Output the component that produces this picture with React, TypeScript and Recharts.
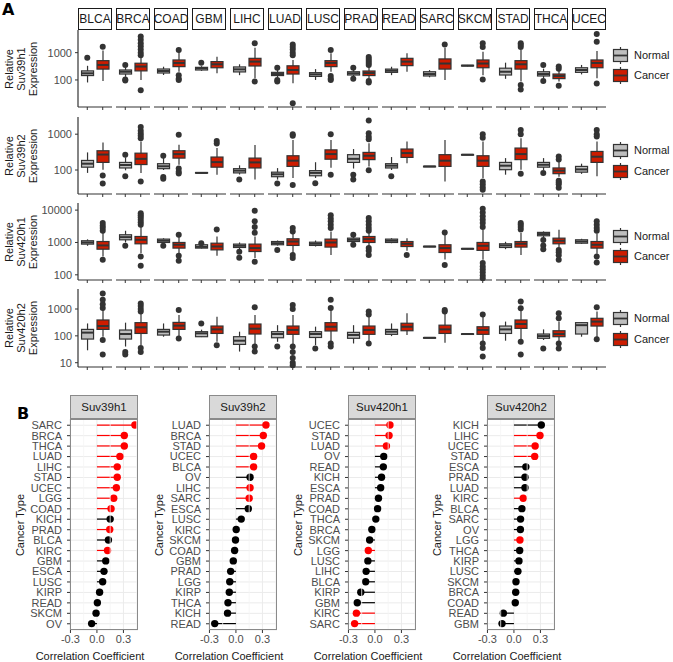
import { Fragment } from "react";
import {
  Bar,
  CartesianGrid,
  ComposedChart,
  ReferenceLine,
  Scatter,
  XAxis,
  YAxis,
} from "recharts";

const FONT = "'Liberation Sans', Arial, Helvetica, sans-serif";
const INK = "#333333";
const TICK_GREY = "#4d4d4d";
const NORMAL_FILL = "#bebebe";
const CANCER_FILL = "#cd1c00";
const SIG_RED = "#ff0000";

const CANCER_TYPES = ["BLCA", "BRCA", "COAD", "GBM", "LIHC", "LUAD", "LUSC", "PRAD", "READ", "SARC", "SKCM", "STAD", "THCA", "UCEC"];
const GROUPS = ["Normal", "Cancer"];
const GENES = ["Suv39h1", "Suv39h2", "Suv420h1", "Suv420h2"];

// box stats per cancer type: [lower whisker, Q1, median, Q3, upper whisker]
const SUV39H1_NORMAL = [
  [81, 145, 175, 215, 330], [130, 165, 200, 232, 290], [152, 180, 213, 252, 306], [215, 232, 268, 290, 320],
  [150, 197, 245, 300, 375], [120, 145, 165, 190, 230], [100, 135, 160, 185, 250], [130, 152, 175, 200, 260],
  [150, 190, 218, 250, 305], [125, 140, 165, 200, 230], [315, 325, 335, 345, 355], [110, 152, 200, 270, 430],
  [115, 140, 165, 200, 260], [160, 190, 232, 280, 355],
];
const SUV39H1_CANCER = [
  [92, 250, 355, 510, 1200], [100, 215, 310, 410, 700], [200, 308, 420, 540, 1090], [175, 280, 375, 470, 710],
  [115, 325, 470, 620, 1500], [76, 165, 232, 330, 540], [200, 308, 420, 510, 950], [115, 145, 180, 213, 305],
  [200, 335, 470, 620, 950], [100, 250, 400, 590, 1500], [150, 280, 400, 540, 1090], [87, 250, 375, 510, 1250],
  [87, 112, 140, 165, 250], [115, 280, 420, 540, 1150],
];
const SUV39H1_OUT_NORMAL = [[650], [350, 95, 105], [], [430], [], [280, 100, 87], [], [280, 110], [], [], [], [], [355, 92], []];
const SUV39H1_OUT_CANCER = [
  [1650], [800, 1000, 1300, 1700, 2200, 3000, 3900, 42], [1250, 150, 110, 100], [], [2200, 87],
  [800, 1000, 1300, 1600, 2000, 14], [1250, 140, 110, 100], [350, 420, 500, 580, 700, 92, 80], [], [2000],
  [1600, 2200, 105], [1600, 1900, 2200, 65, 45], [260, 310, 62], [2500, 4800, 75],
];

const SUV39H2_NORMAL = [
  [83, 120, 150, 185, 310], [98, 114, 138, 163, 225], [100, 109, 127, 150, 240], [81, 82, 83, 85, 86],
  [75, 83, 96, 109, 135], [54, 65, 76, 87, 113], [60, 69, 83, 96, 165], [110, 163, 205, 268, 385],
  [100, 114, 132, 150, 230], [124, 125, 126, 127, 128], [264, 266, 268, 270, 272], [74, 102, 132, 163, 215],
  [100, 120, 140, 163, 215], [78, 87, 104, 126, 150],
];
const SUV39H2_CANCER = [
  [102, 163, 270, 345, 590], [83, 142, 205, 295, 630], [140, 215, 278, 345, 505], [74, 120, 166, 230, 410],
  [54, 114, 163, 215, 500], [60, 126, 182, 250, 690], [115, 200, 278, 365, 690], [126, 195, 250, 310, 560],
  [155, 225, 297, 385, 630], [48, 126, 182, 268, 690], [60, 126, 182, 250, 630], [102, 195, 278, 410, 775],
  [65, 79, 96, 114, 175], [67, 163, 235, 330, 630],
];
const SUV39H2_OUT_NORMAL = [[], [265, 67], [250, 64, 57], [], [54], [42], [43], [74, 54], [67], [], [], [], [83], []];
const SUV39H2_OUT_CANCER = [
  [70, 42], [770, 900, 1050, 1250, 1600, 48], [960, 110, 90, 80], [550, 650], [], [900, 1000, 38], [1000, 74],
  [720, 850, 1070, 2400, 98], [], [], [800, 1000, 48, 40, 33, 28], [1000, 1300, 78], [195, 240, 50, 45, 40, 32],
  [860, 1000, 1300],
];

const SUV420H1_NORMAL = [
  [790, 890, 1000, 1130, 1250], [1000, 1210, 1460, 1730, 2300], [950, 1000, 1130, 1270, 1350], [650, 670, 730, 850, 900],
  [620, 700, 790, 890, 1000], [800, 850, 950, 1070, 1150], [750, 810, 910, 1020, 1150], [1000, 1070, 1210, 1360, 1500],
  [950, 1000, 1130, 1270, 1350], [720, 740, 750, 760, 780], [610, 630, 640, 650, 670], [620, 700, 810, 910, 1050],
  [1400, 1610, 1820, 2050, 2200], [900, 950, 1070, 1210, 1300],
];
const SUV420H1_CANCER = [
  [370, 620, 810, 1070, 1950], [470, 910, 1210, 1530, 3150], [470, 670, 850, 1000, 1540], [390, 590, 750, 950, 1540],
  [330, 525, 670, 890, 1540], [470, 810, 1070, 1300, 1950], [410, 720, 1000, 1270, 2200], [750, 1000, 1270, 1530, 2000],
  [550, 750, 910, 1070, 1360], [300, 490, 670, 850, 1730], [290, 570, 790, 1000, 2450], [410, 720, 910, 1070, 1950],
  [700, 910, 1130, 1360, 2480], [450, 670, 850, 1070, 1900],
];
const SUV420H1_OUT_NORMAL = [[], [790], [790], [950], [520, 340], [590], [], [1730, 850], [], [], [], [], [1200, 800, 620], []];
const SUV420H1_OUT_CANCER = [
  [2300, 2800, 3300, 4000, 290], [3500, 4200, 5000, 6000, 7000, 8000, 370, 190], [1730, 390, 270], [2500],
  [2000, 3000, 4500, 9500, 255], [2200, 2800, 410, 330], [2800, 3500, 4500, 5500, 7000],
  [2300, 2800, 3500, 4500, 5700, 670, 550, 410], [410], [2050, 200],
  [3000, 4000, 5000, 6500, 8500, 11000, 230, 180, 150, 120, 95, 78], [2500, 3000, 3500, 4000],
  [590, 500, 400, 290], [2300, 2800, 3500, 4500, 370, 240],
];

const SUV420H2_NORMAL = [
  [29, 76, 132, 174, 290], [40, 76, 117, 165, 310], [93, 107, 143, 174, 290], [90, 93, 124, 143, 170],
  [26, 48, 66, 93, 143], [60, 85, 117, 143, 250], [45, 87, 117, 143, 220], [52, 81, 108, 135, 250],
  [98, 114, 143, 174, 290], [83, 84, 85, 86, 87], [114, 115, 117, 119, 120], [66, 123, 174, 232, 340],
  [70, 81, 98, 117, 174], [93, 117, 250, 310, 320],
];
const SUV420H2_CANCER = [
  [93, 174, 232, 390, 950], [45, 123, 208, 310, 690], [90, 174, 240, 317, 600], [60, 123, 174, 232, 520],
  [50, 117, 185, 276, 600], [50, 114, 166, 232, 600], [60, 152, 218, 310, 920], [65, 114, 166, 232, 520],
  [107, 155, 218, 295, 690], [55, 123, 174, 250, 700], [60, 114, 166, 218, 520], [70, 190, 276, 390, 920],
  [60, 93, 117, 155, 340], [80, 232, 340, 450, 800],
];
const SUV420H2_OUT_NORMAL = [[], [25, 20], [], [290], [], [40], [34], [], [], [], [], [], [34], []];
const SUV420H2_OUT_CANCER = [
  [1100, 1500, 2200, 3800, 70, 20], [800, 1000, 1300, 1600, 35, 25], [920, 80], [45], [1150, 40, 26],
  [1000, 1400, 40, 25, 15, 10, 8], [1100, 2200, 52, 40], [620, 800, 52], [], [800, 920], [630, 52, 35, 17],
  [1060, 1900, 60, 20], [450, 690, 52, 34], [1150, 74],
];

const EXPR_TICKS = [
  [100, 1000],
  [100, 1000],
  [100, 1000, 10000],
  [10, 100, 1000],
];

// correlation panels, listed top to bottom
const SUV39H1_TYPES = ["SARC", "BRCA", "THCA", "LUAD", "LIHC", "STAD", "UCEC", "LGG", "COAD", "KICH", "PRAD", "BLCA", "KIRC", "GBM", "ESCA", "LUSC", "KIRP", "READ", "SKCM", "OV"];
const SUV39H1_R = [0.43, 0.31, 0.31, 0.26, 0.23, 0.23, 0.22, 0.19, 0.16, 0.15, 0.145, 0.13, 0.12, 0.1, 0.08, 0.065, 0.03, 0.005, -0.01, -0.06];
const SUV39H1_SIG = [1, 1, 1, 1, 1, 1, 1, 1, 1, 0, 1, 0, 1, 0, 0, 0, 0, 0, 0, 0];

const SUV39H2_TYPES = ["LUAD", "BRCA", "STAD", "UCEC", "BLCA", "OV", "LIHC", "SARC", "ESCA", "LUSC", "KIRC", "SKCM", "COAD", "GBM", "PRAD", "LGG", "KIRP", "THCA", "KICH", "READ"];
const SUV39H2_R = [0.34, 0.31, 0.29, 0.2, 0.2, 0.16, 0.16, 0.15, 0.14, 0.06, 0.003, -0.005, -0.015, -0.03, -0.06, -0.07, -0.075, -0.09, -0.095, -0.24];
const SUV39H2_SIG = [1, 1, 1, 1, 1, 0, 1, 1, 0, 0, 0, 0, 0, 0, 0, 0, 0, 0, 0, 0];

const SUV420H1_TYPES = ["UCEC", "STAD", "LUAD", "OV", "READ", "KICH", "ESCA", "PRAD", "COAD", "THCA", "BRCA", "SKCM", "LGG", "LUSC", "LIHC", "BLCA", "KIRP", "GBM", "KIRC", "SARC"];
const SUV420H1_R = [0.17, 0.16, 0.13, 0.1, 0.095, 0.075, 0.065, 0.04, 0.03, 0.01, -0.035, -0.06, -0.075, -0.08, -0.1, -0.105, -0.16, -0.2, -0.21, -0.23];
const SUV420H1_SIG = [1, 1, 1, 0, 0, 0, 0, 0, 0, 0, 0, 0, 1, 0, 0, 0, 0, 0, 1, 1];

const SUV420H2_TYPES = ["KICH", "LIHC", "UCEC", "STAD", "ESCA", "PRAD", "LUAD", "KIRC", "BLCA", "SARC", "OV", "LGG", "THCA", "KIRP", "LUSC", "SKCM", "BRCA", "COAD", "READ", "GBM"];
const SUV420H2_R = [0.31, 0.295, 0.24, 0.235, 0.135, 0.125, 0.125, 0.105, 0.09, 0.075, 0.073, 0.068, 0.065, 0.057, 0.045, 0.023, 0.02, 0.015, -0.12, -0.135];
const SUV420H2_SIG = [0, 1, 1, 1, 0, 0, 0, 1, 0, 0, 0, 1, 0, 0, 0, 0, 0, 0, 0, 0];

const CORR_TICKS = [-0.3, 0, 0.3];
const CORR_MINOR = [-0.15, 0.15, 0.45];

// layout
const A_FACET_LEFT = 78;
const A_FACET_PITCH = 38;
const A_FACET_W = 34;
const A_Y_AXIS_W = 44;
const A_ROW_TOP = [30, 117, 203, 289];
const A_ROW_H = [77, 77, 77, 78];
const A_DOMAIN: [number, number][] = [[1.01, 3.83], [1.33, 3.48], [1.84, 4.22], [0.84, 3.745]];
const A_LEGEND_Y = [[55, 75], [150, 171], [236, 256], [318, 339]];
const A_PAD = 4;
const A_XAXIS_H = 6;

const B_PANEL_LEFT = [70, 209, 348, 487];
const B_PANEL_TOP = 419;
const B_PANEL_W = 68;
const B_PANEL_H = 211;
const B_Y_AXIS_W = 60;

const ROWS_A = [
  { gene: GENES[0], normal: SUV39H1_NORMAL, cancer: SUV39H1_CANCER, outN: SUV39H1_OUT_NORMAL, outC: SUV39H1_OUT_CANCER },
  { gene: GENES[1], normal: SUV39H2_NORMAL, cancer: SUV39H2_CANCER, outN: SUV39H2_OUT_NORMAL, outC: SUV39H2_OUT_CANCER },
  { gene: GENES[2], normal: SUV420H1_NORMAL, cancer: SUV420H1_CANCER, outN: SUV420H1_OUT_NORMAL, outC: SUV420H1_OUT_CANCER },
  { gene: GENES[3], normal: SUV420H2_NORMAL, cancer: SUV420H2_CANCER, outN: SUV420H2_OUT_NORMAL, outC: SUV420H2_OUT_CANCER },
];

const PANELS_B = [
  { gene: GENES[0], types: SUV39H1_TYPES, r: SUV39H1_R, sig: SUV39H1_SIG },
  { gene: GENES[1], types: SUV39H2_TYPES, r: SUV39H2_R, sig: SUV39H2_SIG },
  { gene: GENES[2], types: SUV420H1_TYPES, r: SUV420H1_R, sig: SUV420H1_SIG },
  { gene: GENES[3], types: SUV420H2_TYPES, r: SUV420H2_R, sig: SUV420H2_SIG },
];

const lg = Math.log10;

function BoxShape(props: any) {
  const { x, y, width, height, payload } = props;
  if (x == null || y == null || !payload || !payload.stats) return null;
  const top = Math.min(y, y + height);
  const bottom = Math.max(y, y + height);
  const [lo, q1, med, q3, hi] = payload.stats;
  // axis is linear in log10 units, so interpolate between the whisker ends
  const py = (v: number) => bottom - ((v - lo) / (hi - lo)) * (bottom - top);
  const cx = x + width / 2;
  const fill = payload.group === "Normal" ? NORMAL_FILL : CANCER_FILL;
  return (
    <g>
      <line x1={cx} x2={cx} y1={py(hi)} y2={py(lo)} stroke={INK} strokeWidth={1.2} />
      <rect x={x} y={py(q3)} width={width} height={Math.max(py(q1) - py(q3), 0.6)} fill={fill} stroke={INK} strokeWidth={1.2} />
      <line x1={x} x2={x + width} y1={py(med)} y2={py(med)} stroke={INK} strokeWidth={2} />
    </g>
  );
}

function OutlierDot(props: any) {
  if (props.cx == null || props.cy == null || Number.isNaN(props.cy)) return null;
  return <circle cx={props.cx} cy={props.cy} r={3} fill={INK} />;
}

function BoxFacet({ row, r, i }: { row: (typeof ROWS_A)[number]; r: number; i: number }) {
  const first = i === 0;
  const yw = first ? A_Y_AXIS_W : 0;
  const n = row.normal[i];
  const c = row.cancer[i];
  // "v" (the median) keeps the y axis fed with values even where a facet has no outliers
  const data = [
    { pos: 1, group: GROUPS[0], v: lg(n[2]), range: [lg(n[0]), lg(n[4])], stats: n.map(lg) },
    { pos: 2, group: GROUPS[1], v: lg(c[2]), range: [lg(c[0]), lg(c[4])], stats: c.map(lg) },
  ];
  const outliers = [
    ...row.outN[i].map((v) => ({ pos: 1, v: lg(v) })),
    ...row.outC[i].map((v) => ({ pos: 2, v: lg(v) })),
  ];
  return (
    <div style={{ position: "absolute", left: A_FACET_LEFT + A_FACET_PITCH * i - yw, top: A_ROW_TOP[r] - A_PAD }}>
      <ComposedChart
        width={A_FACET_W + yw}
        height={A_ROW_H[r] + A_PAD + A_XAXIS_H}
        data={data}
        margin={{ top: A_PAD, right: 0, bottom: 0, left: 0 }}
      >
        <XAxis
          dataKey="pos"
          type="number"
          domain={[0.4, 2.6]}
          ticks={[1, 2]}
          tickFormatter={() => ""}
          height={A_XAXIS_H}
          tickSize={3}
          axisLine={{ stroke: INK, strokeWidth: 1.2 }}
          tickLine={{ stroke: INK }}
        />
        <YAxis
          dataKey="v"
          type="number"
          domain={A_DOMAIN[r]}
          ticks={EXPR_TICKS[r].map(lg)}
          tickFormatter={(v: number) => String(Math.round(Math.pow(10, v)))}
          hide={!first}
          width={yw}
          tickSize={3}
          tickMargin={3}
          axisLine={{ stroke: INK, strokeWidth: 1.2 }}
          tickLine={{ stroke: INK }}
          tick={{ fill: TICK_GREY, fontSize: 11 }}
        />
        <Bar dataKey="range" barSize={12} shape={BoxShape} isAnimationActive={false} />
        {outliers.length > 0 && <Scatter data={outliers} shape={OutlierDot} isAnimationActive={false} />}
      </ComposedChart>
    </div>
  );
}

function LegendKey({ fill }: { fill: string }) {
  return (
    <svg width={17} height={17} style={{ display: "block" }}>
      <line x1={8.5} x2={8.5} y1={0} y2={17} stroke={INK} strokeWidth={1.2} />
      <rect x={1.5} y={2.5} width={14} height={12} fill={fill} stroke={INK} strokeWidth={1.2} />
      <line x1={1.5} x2={15.5} y1={8.5} y2={8.5} stroke={INK} strokeWidth={1.8} />
    </svg>
  );
}

function Lollipop(props: any) {
  const { x, y, width, height, payload } = props;
  if (x == null || y == null || !payload) return null;
  const a = x;
  const b = x + width;
  const zero = payload.r >= 0 ? Math.min(a, b) : Math.max(a, b);
  const end = payload.r >= 0 ? Math.max(a, b) : Math.min(a, b);
  const cy = y + height / 2;
  const color = payload.sig ? SIG_RED : "#000000";
  return (
    <g>
      <line x1={zero} x2={end} y1={cy} y2={cy} stroke={color} strokeWidth={1.2} />
      <circle cx={end} cy={cy} r={3.7} fill={color} />
    </g>
  );
}

function CorrPanel({ panel, k }: { panel: (typeof PANELS_B)[number]; k: number }) {
  const data = panel.types.map((t, j) => ({ type: t, r: panel.r[j], sig: panel.sig[j], range: [0, panel.r[j]] }));
  const left = B_PANEL_LEFT[k];
  return (
    <Fragment>
      <div
        style={{
          position: "absolute", left, top: B_PANEL_TOP - 24, width: B_PANEL_W, height: 24, boxSizing: "border-box",
          background: "#d9d9d9", border: "1px solid #8a8a8a", fontSize: 11.5, lineHeight: "22px", textAlign: "center", color: "#1a1a1a",
        }}
      >
        {panel.gene}
      </div>
      <div style={{ position: "absolute", left: left - B_Y_AXIS_W, top: B_PANEL_TOP }}>
        <ComposedChart
          layout="vertical"
          width={B_Y_AXIS_W + B_PANEL_W}
          height={B_PANEL_H + 22}
          data={data}
          margin={{ top: 0, right: 0, bottom: 0, left: 0 }}
        >
          <CartesianGrid stroke="#ebebeb" strokeWidth={1} />
          <XAxis
            type="number"
            domain={[-0.305, 0.465]}
            ticks={CORR_TICKS}
            tickFormatter={(v: number) => v.toFixed(1)}
            height={22}
            tickSize={3}
            tickMargin={2}
            axisLine={false}
            tickLine={{ stroke: INK }}
            tick={{ fill: TICK_GREY, fontSize: 11 }}
          />
          <YAxis
            type="category"
            dataKey="type"
            width={B_Y_AXIS_W}
            interval={0}
            padding={{ top: 1, bottom: 1 }}
            tickSize={3}
            tickMargin={5}
            axisLine={false}
            tickLine={{ stroke: INK }}
            tick={{ fill: TICK_GREY, fontSize: 11 }}
          />
          {CORR_MINOR.map((m) => (
            <ReferenceLine key={m} x={m} stroke="#f4f4f4" strokeWidth={0.8} />
          ))}
          <Bar dataKey="range" shape={Lollipop} isAnimationActive={false} />
        </ComposedChart>
      </div>
      <div
        style={{
          position: "absolute", left, top: B_PANEL_TOP, width: B_PANEL_W, height: B_PANEL_H, boxSizing: "border-box",
          border: "1px solid #8a8a8a", pointerEvents: "none",
        }}
      />
      <div
        style={{
          position: "absolute", left: left - 50, top: B_PANEL_TOP + B_PANEL_H / 2,
          transform: "translate(-50%, -50%) rotate(-90deg)", fontSize: 11, whiteSpace: "nowrap", color: "#1a1a1a",
        }}
      >
        Cancer Type
      </div>
      <div
        style={{
          position: "absolute", left: left + 20, top: 656, transform: "translate(-50%, -50%)",
          fontSize: 11, whiteSpace: "nowrap", color: "#1a1a1a",
        }}
      >
        Correlation Coefficient
      </div>
    </Fragment>
  );
}

export default function App() {
  return (
    <div style={{ position: "absolute", left: 0, top: 0, width: 673, height: 662, background: "#fff", fontFamily: FONT, overflow: "hidden" }}>
      <div style={{ position: "absolute", left: 2, top: 0, fontSize: 16, fontWeight: 900, fontFamily: "'DejaVu Sans', sans-serif" }}>A</div>
      {CANCER_TYPES.map((t, i) => (
        <div
          key={t}
          style={{
            position: "absolute", left: A_FACET_LEFT + A_FACET_PITCH * i, top: 8, width: A_FACET_W, height: 22,
            boxSizing: "border-box", border: "1px solid #1a1a1a", fontSize: 12, lineHeight: "20px", textAlign: "center",
            color: "#1a1a1a", display: "flex", justifyContent: "center", whiteSpace: "nowrap",
          }}
        >
          {t}
        </div>
      ))}
      {ROWS_A.map((row, r) => (
        <Fragment key={row.gene}>
          <div
            style={{
              position: "absolute", left: 21, top: A_ROW_TOP[r] + A_ROW_H[r] / 2,
              transform: "translate(-50%, -50%) rotate(-90deg)", fontSize: 11, lineHeight: "12px",
              textAlign: "center", whiteSpace: "nowrap", color: "#1a1a1a",
            }}
          >
            Relative
            <br />
            {row.gene}
            <br />
            Expression
          </div>
          {CANCER_TYPES.map((t, i) => (
            <BoxFacet key={t} row={row} r={r} i={i} />
          ))}
          {GROUPS.map((g, gi) => (
            <div key={g} style={{ position: "absolute", left: 612, top: A_LEGEND_Y[r][gi] - 8.5, display: "flex", alignItems: "center" }}>
              <LegendKey fill={gi === 0 ? NORMAL_FILL : CANCER_FILL} />
              <span style={{ marginLeft: 5, fontSize: 11, color: "#1a1a1a" }}>{g}</span>
            </div>
          ))}
        </Fragment>
      ))}
      <div style={{ position: "absolute", left: 17, top: 404, fontSize: 16, fontWeight: 900, fontFamily: "'DejaVu Sans', sans-serif" }}>B</div>
      {PANELS_B.map((p, k) => (
        <CorrPanel key={p.gene} panel={p} k={k} />
      ))}
    </div>
  );
}
